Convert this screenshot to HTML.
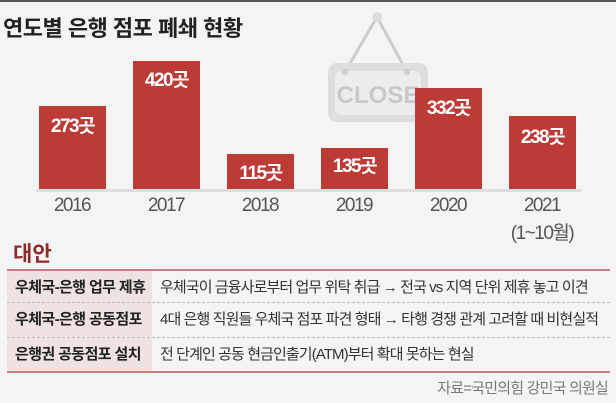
<!DOCTYPE html>
<html><head><meta charset="utf-8"><style>
body{margin:0;width:616px;height:403px;background:#f4f4f4;font-family:"Liberation Sans","Noto Sans CJK KR",sans-serif;position:relative;overflow:hidden}
.a{position:absolute}
.bar{position:absolute;background:#bd3b36;width:67px}
.v{position:absolute;color:#fff;font-size:19px;font-weight:bold;width:67px;text-align:center;letter-spacing:-1.5px}
.y{position:absolute;width:90px;text-align:center;font-size:19px;color:#555;letter-spacing:-1.5px}
.row{position:absolute;left:7px;width:603px;height:34px;font-size:15px;line-height:34px;white-space:nowrap}
.row .l{position:absolute;left:0;top:0;width:137px;height:100%;background:#efe3e1;font-weight:bold;padding-left:8px;color:#222;letter-spacing:-0.6px}
.row .r{position:absolute;left:153px;color:#333;letter-spacing:-0.9px}
</style></head><body>
<div class="a" style="left:0;top:0;width:616px;height:2px;background:#555"></div>
<div class="a" style="left:3px;top:11px;font-size:22px;font-weight:bold;color:#222;letter-spacing:-0.5px">연도별 은행 점포 폐쇄 현황</div>
<svg class="a" style="left:320px;top:8px" width="120" height="120">
<line x1="57" y1="9" x2="25" y2="64" stroke="#ccc" stroke-width="3"/><line x1="57" y1="9" x2="87" y2="64" stroke="#ccc" stroke-width="3"/>
<circle cx="57" cy="9" r="5" fill="#ddd"/>
<rect x="8" y="55" width="100" height="59" rx="9" fill="#ddd"/><rect x="15" y="63" width="86" height="44" rx="6" fill="#ececec"/>
<circle cx="25" cy="64" r="3" fill="#ccc"/><circle cx="87" cy="64" r="3" fill="#ccc"/>
<text x="58" y="95" text-anchor="middle" font-family="Liberation Sans" font-weight="bold" font-size="24" fill="#c8c8c8">CLOSE</text>
</svg>
<div class="a" style="left:36px;top:189px;width:545px;height:3px;background:#ddd"></div>
<div class="bar" style="left:39px;top:106px;height:83px"></div><div class="v" style="left:39px;top:111px">273곳</div>
<div class="bar" style="left:133px;top:61px;height:128px"></div><div class="v" style="left:133px;top:65px">420곳</div>
<div class="bar" style="left:227px;top:154px;height:35px"></div><div class="v" style="left:227px;top:158px">115곳</div>
<div class="bar" style="left:321px;top:148px;height:41px"></div><div class="v" style="left:321px;top:151px">135곳</div>
<div class="bar" style="left:415px;top:88px;height:101px"></div><div class="v" style="left:415px;top:93px">332곳</div>
<div class="bar" style="left:509px;top:116px;height:73px"></div><div class="v" style="left:509px;top:122px">238곳</div>
<div class="y" style="left:27px;top:195px">2016</div>
<div class="y" style="left:121px;top:195px">2017</div>
<div class="y" style="left:215px;top:195px">2018</div>
<div class="y" style="left:309px;top:195px">2019</div>
<div class="y" style="left:403px;top:195px">2020</div>
<div class="y" style="left:497px;top:195px">2021</div>
<div class="y" style="left:482px;top:218px;width:120px">(1~10월)</div>
<div class="a" style="left:13px;top:238px;font-size:21px;font-weight:bold;color:#8e2b2b">대안</div>
<div class="a" style="left:7px;top:269px;width:603px;height:2px;background:#c78080"></div>
<div class="row" style="top:271px"><div class="l">우체국-은행 업무 제휴</div><div class="r">우체국이 금융사로부터 업무 위탁 취급 → 전국 vs 지역 단위 제휴 놓고 이견</div></div>
<div class="a" style="left:7px;top:302px;width:603px;border-top:1px dashed #bbb"></div>
<div class="row" style="top:303px"><div class="l">우체국-은행 공동점포</div><div class="r">4대 은행 직원들 우체국 점포 파견 형태 → 타행 경쟁 관계 고려할 때 비현실적</div></div>
<div class="a" style="left:7px;top:337px;width:603px;border-top:1px dashed #bbb"></div>
<div class="row" style="top:338px"><div class="l">은행권 공동점포 설치</div><div class="r">전 단계인 공동 현금인출기(ATM)부터 확대 못하는 현실</div></div>
<div class="a" style="left:7px;top:371px;width:603px;height:2px;background:#c78080"></div>
<div class="a" style="right:8px;top:377px;font-size:15px;color:#777;letter-spacing:-0.8px">자료=국민의힘 강민국 의원실</div>
</body></html>
